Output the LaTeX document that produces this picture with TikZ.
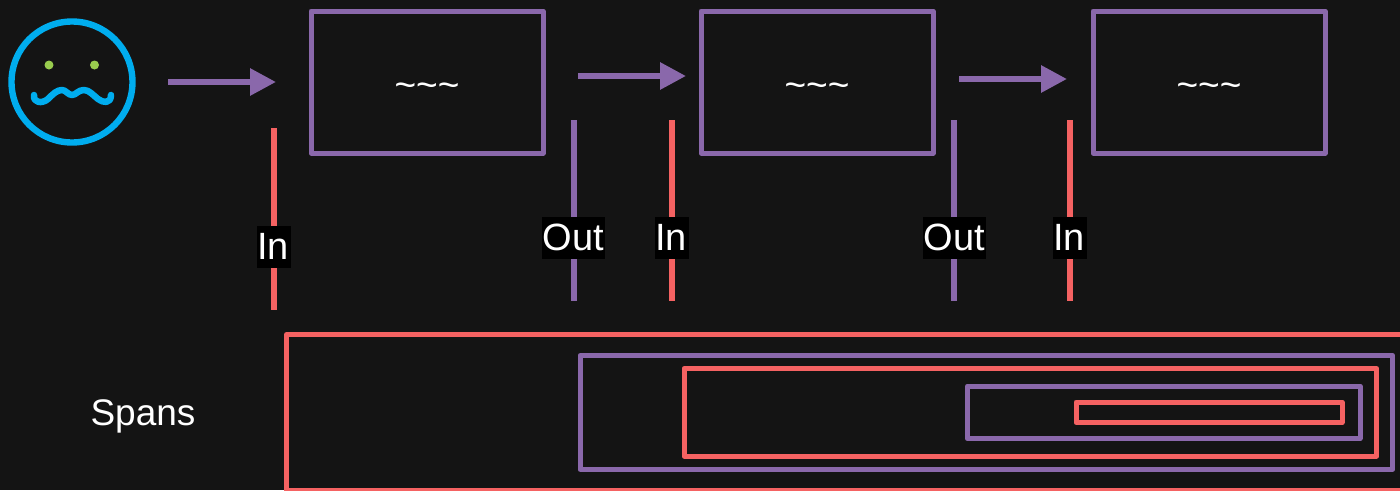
\documentclass[tikz,border=0pt]{standalone}
\usepackage{fontspec}
\setmainfont{Liberation Sans}
\usetikzlibrary{arrows.meta}
\definecolor{bgc}{HTML}{141414}
\definecolor{purp}{HTML}{8A68AB}
\definecolor{redc}{HTML}{F56262}
\definecolor{cyanc}{HTML}{00ADEF}
\definecolor{greenc}{HTML}{99CC4E}
\tikzset{
  x=1pt,y=-1pt,
  stage/.style={draw=purp,line width=5pt,line join=round,minimum width=232pt,minimum height=142pt,inner sep=0pt,outer sep=0pt,text=white,font=\fontsize{37}{37}\selectfont},
  spanred/.style={draw=redc,line width=5pt,line join=round},
  spanpurp/.style={draw=purp,line width=5pt,line join=round},
  flow/.style={draw=purp,line width=6pt,-{Triangle[length=26pt,width=26pt,fill=purp]}},
  wirered/.style={draw=redc,line width=5.6pt},
  wirepurp/.style={draw=purp,line width=5.6pt},
  tag/.style={fill=black,text=white,inner sep=0pt,outer sep=0pt,text height=33pt,text depth=9pt,align=center,font=\fontsize{38}{38}\selectfont},
}
\newcommand{\tildes}{\raisebox{-15pt}[0pt][0pt]{\textasciitilde\textasciitilde\textasciitilde}}
\begin{document}
\begin{tikzpicture}
\useasboundingbox (0,0) rectangle (1400,490);
\fill[bgc] (0,0) rectangle (1400,490);
% face
\node[draw=cyanc,line width=6.4pt,circle,minimum size=121pt,inner sep=0pt,outer sep=0pt] (face) at (72,82) {};
\fill[greenc] (49,65) circle (4.5);
\fill[greenc] (94.5,65) circle (4.5);
\draw[cyanc,line width=6.5pt,line cap=round,line join=round]
  (34,95) .. controls (33,103) and (42,104) .. (48,99)
  .. controls (53,94) and (57,90) .. (62,90)
  .. controls (66,90) and (68,95) .. (72,95)
  .. controls (76,95) and (78,90) .. (84,90)
  .. controls (89,90) and (93,95) .. (98,99)
  .. controls (103,103) and (111,104) .. (111,95);
% stages
\node[stage] (s1) at (427,82) {\tildes};
\node[stage] (s2) at (817,82) {\tildes};
\node[stage] (s3) at (1209,82) {\tildes};
% arrows
\coordinate (a1s) at (168,82); \coordinate (a1e) at (276,82);
\coordinate (a2s) at (578,76); \coordinate (a2e) at (686,76);
\coordinate (a3s) at (959,79); \coordinate (a3e) at (1067,79);
\draw[flow] (a1s) -- (a1e);
\draw[flow] (a2s) -- (a2e);
\draw[flow] (a3s) -- (a3e);
% wires
\coordinate (w1t) at (274,128); \coordinate (w1b) at (274,310);
\coordinate (w2t) at (574,120); \coordinate (w2b) at (574,301);
\coordinate (w3t) at (672,120); \coordinate (w3b) at (672,301);
\coordinate (w4t) at (954,120); \coordinate (w4b) at (954,301);
\coordinate (w5t) at (1070,120); \coordinate (w5b) at (1070,301);
\draw[wirered] (w1t) -- (w1b);
\draw[wirepurp] (w2t) -- (w2b);
\draw[wirered] (w3t) -- (w3b);
\draw[wirepurp] (w4t) -- (w4b);
\draw[wirered] (w5t) -- (w5b);
% labels
\node[tag,minimum width=34pt] (l1) at (274,247) {\kern-2pt In};
\node[tag,minimum width=63pt] (l2) at (573.5,238) {Out};
\node[tag,minimum width=34pt] (l3) at (672,238) {\kern-2pt In};
\node[tag,minimum width=63pt] (l4) at (954.5,238) {Out};
\node[tag,minimum width=34pt] (l5) at (1070,238) {\kern-2pt In};
% spans
\node[text=white,inner sep=0pt,font=\fontsize{37}{37}\selectfont] (spans) at (143,416) {Spans};
\begin{scope}
\clip (0,0) rectangle (1400,490);
\draw[spanred] (286.5,334.5) rectangle (1420,490);
\end{scope}
\draw[spanpurp] (580,355.5) rectangle (1392.7,469.3);
\draw[spanred] (684,368.6) rectangle (1376.7,456);
\draw[spanpurp] (967.3,386) rectangle (1360,438.7);
\draw[spanred] (1076,402) rectangle (1342,422.7);
\end{tikzpicture}
\end{document}
